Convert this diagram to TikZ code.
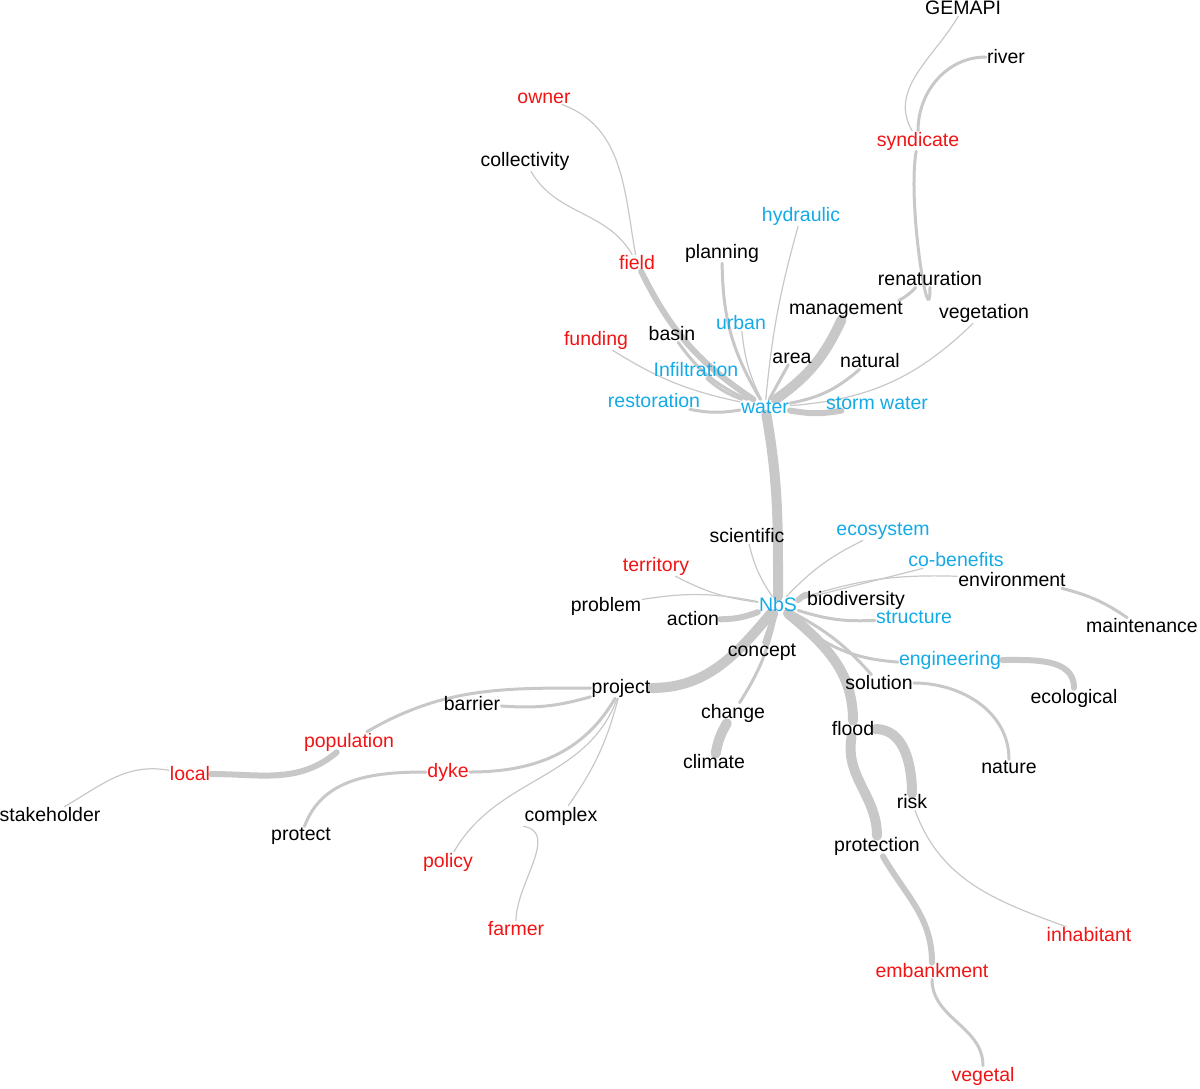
\documentclass[tikz,border=0pt]{standalone}
\usepackage{fontspec}
\setmainfont{Liberation Sans}
\usetikzlibrary{backgrounds}
\definecolor{wb}{RGB}{20,170,230}
\definecolor{wr}{RGB}{240,20,20}
\definecolor{eg}{RGB}{200,200,200}
\begin{document}
\begin{tikzpicture}[x=1pt,y=-1pt,
  w/.style={font=\fontsize{19.5}{19.5}\selectfont,inner sep=1pt},
  bw/.style={w,text=wb}, rw/.style={w,text=wr},
  e/.style={draw=eg,line width=1.2pt,line cap=round},
  e2/.style={e,line width=3pt}, e3/.style={e,line width=6pt}, e4/.style={e,line width=10pt}]
\useasboundingbox (0,0) rectangle (1200,1088);
\node[w] (GEMAPI) at (963,8) {GEMAPI};
\node[w] (river) at (1006,57) {river};
\node[rw] (owner) at (544,98) {owner};
\node[rw] (syndicate) at (918,141) {syndicate};
\node[w] (collectivity) at (525,161) {collectivity};
\node[bw] (hydraulic) at (801,216) {hydraulic};
\node[w] (planning) at (722,253) {planning};
\node[rw] (field) at (637,263) {field};
\node[w] (renaturation) at (930,279) {renaturation};
\node[w] (management) at (846,310) {management};
\node[w] (vegetation) at (984,313) {vegetation};
\node[bw] (urban) at (741,323) {urban};
\node[w] (basin) at (672,334) {basin};
\node[rw] (funding) at (596,340) {funding};
\node[w] (area) at (792,358) {area};
\node[w] (natural) at (870,361) {natural};
\node[bw] (infil) at (696,370) {Infiltration};
\node[bw] (restoration) at (654,401) {restoration};
\node[bw] (water) at (765,407) {water};
\node[bw] (storm) at (877,403) {storm water};
\node[w] (scientific) at (747,536) {scientific};
\node[bw] (ecosystem) at (883,531) {ecosystem};
\node[bw] (cob) at (956,560) {co-benefits};
\node[rw] (territory) at (656,566) {territory};
\node[w] (environment) at (1012,580) {environment};
\node[w] (problem) at (606,606) {problem};
\node[bw] (NbS) at (778,605) {NbS};
\node[w] (biodiv) at (856,600) {biodiversity};
\node[w] (action) at (693,619) {action};
\node[bw] (structure) at (914,617) {structure};
\node[w] (maintenance) at (1142,626) {maintenance};
\node[w] (concept) at (762,652) {concept};
\node[bw] (engineering) at (950,660) {engineering};
\node[w] (project) at (621,688) {project};
\node[w] (solution) at (879,683) {solution};
\node[w] (ecological) at (1074,698) {ecological};
\node[w] (barrier) at (472,704) {barrier};
\node[w] (change) at (733,713) {change};
\node[w] (flood) at (853,729) {flood};
\node[rw] (population) at (349,742) {population};
\node[w] (climate) at (714,762) {climate};
\node[rw] (local) at (190,774) {local};
\node[rw] (dyke) at (448,772) {dyke};
\node[w] (nature) at (1009,767) {nature};
\node[w] (risk) at (912,802) {risk};
\node[w] (stakeholder) at (50,815) {stakeholder};
\node[w] (complex) at (561,816) {complex};
\node[w] (protect) at (301,836) {protect};
\node[w] (protection) at (877,846) {protection};
\node[rw] (policy) at (448,862) {policy};
\node[rw] (farmer) at (516,929) {farmer};
\node[rw] (inhabitant) at (1089,935) {inhabitant};
\node[rw] (embankment) at (932,971) {embankment};
\node[rw] (vegetal) at (983,1076) {vegetal};
\begin{scope}[on background layer]
\draw[e4] (water) to[out=-80,in=90] (NbS.north);
\draw[e2] (water) to[bend left=15] (planning);
\draw[e3] (water) to[bend left=15] (field);
\draw[e] (water) to[bend left=10] (urban);
\draw[e2] (water) to[bend left=15] (basin);
\draw[e] (water) to[bend left=10] (funding);
\draw[e2] (water) to (area);
\draw[e2] (water) to[bend left=10] (infil);
\draw[e2] (water) to[bend left=10] (restoration);
\draw[e4] (water) to[bend right=15] (management);
\draw[e2] (water) to[bend right=15] (natural);
\draw[e3] (water) to[bend right=10] (storm);
\draw[e] (water) to[bend left=5] (hydraulic);
\draw[e] (water) to[bend right=20] (vegetation);
\draw[e2] (management) to[bend right=10] (renaturation);
\draw[e2] (renaturation) to[out=-90,in=-100] (syndicate);
\draw[e] (syndicate) to[out=120,in=-120] (GEMAPI);
\draw[e2] (syndicate) to[out=90,in=180] (river);
\draw[e] (field) to[out=100,in=-20] (owner);
\draw[e] (field) to[out=120,in=-60] (collectivity);
\draw[e] (NbS) to[bend left=10] (scientific);
\draw[e] (NbS) to[bend left=10] (ecosystem);
\draw[e] (NbS) to (cob);
\draw[e] (NbS) to[bend left=10] (territory);
\draw[e3] (NbS) to[bend left=10] (biodiv);
\draw[e] (NbS) to[bend left=10] (environment);
\draw[e2] (NbS) to[bend right=10] (structure);
\draw[e] (NbS) to[bend right=10] (problem);
\draw[e3] (NbS) to[bend left=10] (action);
\draw[e3] (NbS) to (concept);
\draw[e4] (NbS) to[out=-130,in=0] (project);
\draw[e2] (NbS) to[bend left=10] (solution);
\draw[e2] (NbS) to[bend right=20] (engineering);
\draw[e2] (NbS) to[bend left=10] (change);
\draw[e4] (NbS) to[out=-40,in=90] (flood);
\draw[e2] (environment) to[bend left=10] (maintenance);
\draw[e3] (engineering) to[out=0,in=90] (ecological);
\draw[e2] (solution) to[out=0,in=90] (nature);
\draw[e4] (change) to[bend right=10] (climate);
\draw[e4] (flood) to[out=0,in=90] (risk);
\draw[e4] (flood) to[out=-100,in=90] (protection);
\draw[e] (risk) to[out=-70,in=160] (inhabitant);
\draw[e3] (protection) to[out=-60,in=90] (embankment);
\draw[e2] (embankment) to[out=-90,in=90] (vegetal);
\draw[e2] (project) to[bend left=10] (barrier);
\draw[e2] (project) to[out=180,in=30] (population);
\draw[e2] (project) to[out=-120,in=0] (dyke);
\draw[e] (project) to[bend left=10] (complex);
\draw[e] (project) to[out=-110,in=60] (policy);
\draw[e] (complex.south west) to[out=-10,in=90] (farmer);
\draw[e3] (population) to[out=-140,in=0] (local);
\draw[e] (local) to[out=170,in=30] (stakeholder);
\draw[e2] (dyke) to[out=180,in=70] (protect);
\end{scope}
\end{tikzpicture}
\end{document}
